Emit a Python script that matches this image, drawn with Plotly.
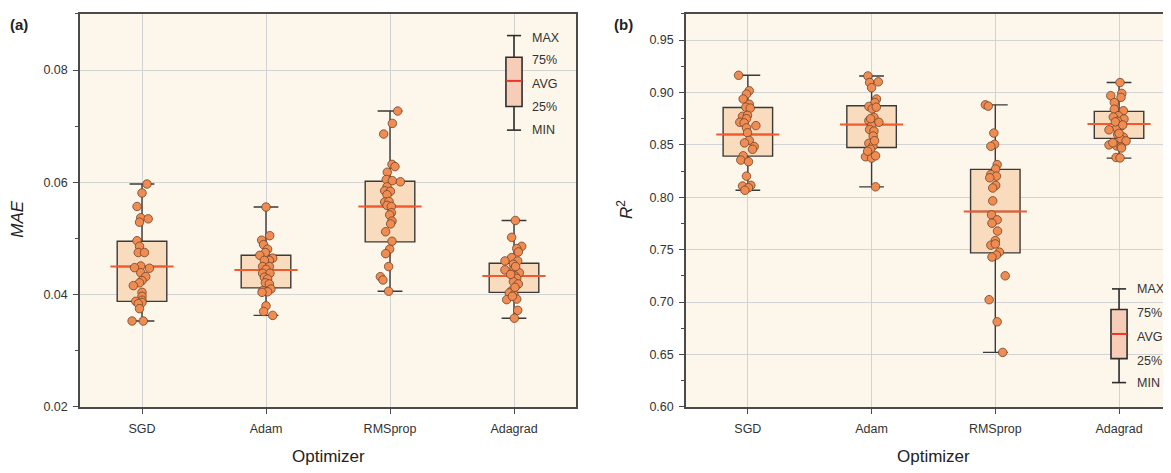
import plotly.graph_objects as go

# ---------------- data ----------------
optimizers = ["SGD", "Adam", "RMSprop", "Adagrad"]

# MAE points per optimizer
mae_sgd = [0.0597, 0.0581, 0.0557, 0.0537, 0.0535, 0.0529, 0.0496, 0.0486, 0.0475, 0.0475,
           0.0451, 0.0448, 0.0447, 0.0439, 0.0432, 0.0425, 0.0421, 0.0416, 0.0404, 0.0397,
           0.0390, 0.0388, 0.0386, 0.0384, 0.0375, 0.0353, 0.0353]
mae_adam = [0.0556, 0.0505, 0.0497, 0.0489, 0.0481, 0.0475, 0.0470, 0.0465, 0.0461, 0.0461,
            0.0450, 0.0450, 0.0445, 0.0438, 0.0438, 0.0431, 0.0428, 0.0421, 0.0419, 0.0410,
            0.0407, 0.0405, 0.0404, 0.0380, 0.0370, 0.0363]
mae_rms = [0.0727, 0.0705, 0.0686, 0.0632, 0.0628, 0.0618, 0.0605, 0.0603, 0.0601, 0.0592,
           0.0585, 0.0584, 0.0578, 0.0565, 0.0566, 0.0559, 0.0557, 0.0546, 0.0542, 0.0531,
           0.0526, 0.0512, 0.0495, 0.0481, 0.0473, 0.0450, 0.0432, 0.0426, 0.0406]
mae_adagrad = [0.0532, 0.0502, 0.0486, 0.0482, 0.0476, 0.0466, 0.0460, 0.0460, 0.0454, 0.0444,
               0.0446, 0.0439, 0.0433, 0.0429, 0.0423, 0.0419, 0.0407, 0.0403, 0.0400, 0.0391,
               0.0392, 0.0372, 0.0358, 0.0450, 0.0436, 0.0413, 0.0397]

# R2 points per optimizer
r2_sgd = [0.9164, 0.9017, 0.8985, 0.8938, 0.8888, 0.8860, 0.8851, 0.8773, 0.8782, 0.8750,
          0.8716, 0.8710, 0.8684, 0.8663, 0.8616, 0.8543, 0.8519, 0.8484, 0.8458, 0.8396,
          0.8355, 0.8340, 0.8202, 0.8108, 0.8114, 0.8091, 0.8067]
r2_adam = [0.9158, 0.9095, 0.9102, 0.9046, 0.8938, 0.8904, 0.8867, 0.8844, 0.8763, 0.8731,
           0.8716, 0.8684, 0.8647, 0.8632, 0.8585, 0.8515, 0.8490, 0.8458, 0.8387, 0.8374,
           0.8396, 0.8100, 0.8860, 0.8750, 0.8540, 0.8440]
r2_rms = [0.8882, 0.8870, 0.8613, 0.8506, 0.8487, 0.8312, 0.8270, 0.8218, 0.8202, 0.8186,
          0.8114, 0.8089, 0.7966, 0.7832, 0.7785, 0.7753, 0.7678, 0.7587, 0.7543, 0.7555,
          0.7477, 0.7449, 0.7430, 0.7251, 0.7023, 0.6812, 0.6520]
r2_adagrad = [0.9095, 0.8992, 0.8954, 0.8970, 0.8904, 0.8841, 0.8826, 0.8778, 0.8766, 0.8747,
              0.8726, 0.8679, 0.8663, 0.8644, 0.8600, 0.8575, 0.8553, 0.8538, 0.8500, 0.8490,
              0.8481, 0.8380, 0.8376, 0.8720, 0.8690, 0.8610, 0.8520, 0.8470]

# horizontal scatter of each point (category units)
mae_sgd_dx = [0.04, 0.00, -0.04, -0.01, 0.05, -0.02, -0.04, -0.02, -0.03, 0.02, -0.01, -0.06,
              0.06, -0.01, 0.03, 0.00, -0.02, -0.07, 0.00, 0.00, 0.00, -0.05, 0.00, -0.03,
              -0.02, -0.08, 0.01]
mae_adam_dx = [0.0, 0.03, -0.035, -0.02, 0.013, -0.005, -0.05, 0.054, 0.027, -0.013, -0.027,
               0.027, 0.0, -0.027, 0.032, -0.013, 0.013, -0.005, 0.027, 0.04, -0.027, 0.013,
               -0.032, 0.0, -0.019, 0.054]
mae_rms_dx = [0.062, 0.019, -0.051, 0.016, 0.04, -0.022, -0.03, 0.019, 0.084, -0.024, -0.043,
              0.003, -0.024, -0.043, -0.008, -0.024, 0.011, 0.011, -0.003, 0.016, 0.005, -0.035,
              0.016, -0.003, -0.035, -0.011, -0.078, -0.057, -0.011]
mae_adagrad_dx = [0.011, -0.019, 0.062, 0.022, 0.035, -0.019, -0.073, 0.03, -0.005, -0.073,
                  0.0, 0.043, 0.008, 0.022, -0.005, 0.035, -0.019, -0.038, 0.0, -0.059, 0.022,
                  0.03, 0.003, 0.013, -0.027, 0.008, -0.013]
r2_sgd_dx = [-0.075, 0.011, -0.011, -0.038, 0.011, -0.016, 0.019, -0.043, -0.003, -0.011,
             -0.065, -0.03, 0.065, -0.011, -0.003, 0.011, -0.027, 0.051, 0.038, -0.038,
             -0.057, 0.005, -0.011, -0.043, 0.024, 0.005, -0.024]
r2_adam_dx = [-0.03, -0.016, 0.054, 0.0, 0.04, 0.027, -0.022, 0.005, 0.019, -0.022, 0.059,
              0.0, -0.016, 0.019, 0.013, -0.022, 0.011, -0.008, -0.049, 0.0, 0.032, 0.032,
              0.038, -0.008, 0.024, -0.032]
r2_rms_dx = [-0.08, -0.057, -0.012, -0.006, -0.036, 0.015, 0.003, -0.036, 0.009, -0.045,
             0.003, -0.021, -0.021, -0.03, 0.015, -0.027, 0.018, 0.0, -0.036, 0.0, 0.033,
             0.009, -0.027, 0.08, -0.05, 0.015, 0.06]
r2_adagrad_dx = [0.008, 0.022, 0.016, -0.067, -0.038, -0.038, 0.035, -0.005, -0.046, 0.04,
                 -0.011, 0.016, -0.019, -0.081, -0.011, 0.035, 0.016, 0.057, -0.081, -0.019,
                 0.016, -0.024, 0.008, -0.03, 0.03, 0.0, -0.05, 0.02]

# box statistics: MIN, 25%, AVG, 75%, MAX
mae_min = [0.0353, 0.0363, 0.0406, 0.0358]
mae_q1 = [0.0388, 0.0412, 0.0494, 0.0404]
mae_avg = [0.0450, 0.0444, 0.0557, 0.0433]
mae_q3 = [0.0495, 0.0470, 0.0602, 0.0456]
mae_max = [0.0597, 0.0556, 0.0727, 0.0532]

r2_min = [0.8067, 0.8100, 0.6520, 0.8374]
r2_q1 = [0.8393, 0.8475, 0.7470, 0.8562]
r2_avg = [0.8600, 0.8694, 0.7865, 0.8700]
r2_q3 = [0.8857, 0.8873, 0.8267, 0.8820]
r2_max = [0.9164, 0.9158, 0.8882, 0.9095]

legend_labels = ["MAX", "75%", "AVG", "25%", "MIN"]

# ---------------- styling ----------------
FONT = "Arial, Liberation Sans, sans-serif"
BG = "#FDF6EA"
BOX_FILL = "#F9DCBD"
BOX_LINE = "#3A3A3A"
MEAN_COLOR = "#EF5A2F"
PT_FILL = "#F08C52"
PT_LINE = "#6E4328"
GRID = "#D3D3D3"
AXIS = "#4A4A4A"
TXT = "#333333"

# page body adds an 8px offset; figure is sized to fit the window exactly
OFF = 8
W, H = 1171 - OFF, 473 - OFF


def px_x(X):
    return (X - OFF) / W


def px_y(Y):
    return 1 - (Y - OFF) / H


fig = go.Figure()

panels = [
    dict(xa="x", ya="y",
         pts=[mae_sgd, mae_adam, mae_rms, mae_adagrad],
         dx=[mae_sgd_dx, mae_adam_dx, mae_rms_dx, mae_adagrad_dx],
         stats=(mae_min, mae_q1, mae_avg, mae_q3, mae_max)),
    dict(xa="x2", ya="y2",
         pts=[r2_sgd, r2_adam, r2_rms, r2_adagrad],
         dx=[r2_sgd_dx, r2_adam_dx, r2_rms_dx, r2_adagrad_dx],
         stats=(r2_min, r2_q1, r2_avg, r2_q3, r2_max)),
]

BOX_W = 0.40
MEAN_HW = 0.255

for p in panels:
    smin, sq1, savg, sq3, smax = p["stats"]
    for i, name in enumerate(optimizers):
        fig.add_trace(go.Box(
            x=[i], q1=[sq1[i]], median=[savg[i]], q3=[sq3[i]],
            lowerfence=[smin[i]], upperfence=[smax[i]],
            width=BOX_W, whiskerwidth=0.5, boxpoints=False,
            fillcolor=BOX_FILL, line=dict(color=BOX_LINE, width=1.4),
            xaxis=p["xa"], yaxis=p["ya"], showlegend=False, hoverinfo="skip"))
        fig.add_trace(go.Scatter(
            x=[i - MEAN_HW, i + MEAN_HW], y=[savg[i], savg[i]], mode="lines",
            line=dict(color=MEAN_COLOR, width=2),
            xaxis=p["xa"], yaxis=p["ya"], showlegend=False, hoverinfo="skip"))
        fig.add_trace(go.Scatter(
            x=[i + d for d in p["dx"][i]], y=p["pts"][i], mode="markers",
            marker=dict(size=8.5, color=PT_FILL, line=dict(color=PT_LINE, width=0.8)),
            xaxis=p["xa"], yaxis=p["ya"], showlegend=False))


# ---------------- key glyphs (MAX / 75% / AVG / 25% / MIN) ----------------
def add_key(xref, yref, xc, vals, label_ys):
    vmax, vq3, vavg, vq1, vmin = vals
    cap, hb = 0.057, 0.065
    ln = dict(color="#2E2E2E", width=1.6)
    fig.add_shape(type="line", xref=xref, yref=yref, x0=xc, x1=xc, y0=vq3, y1=vmax, line=ln)
    fig.add_shape(type="line", xref=xref, yref=yref, x0=xc, x1=xc, y0=vmin, y1=vq1, line=ln)
    fig.add_shape(type="line", xref=xref, yref=yref, x0=xc - cap, x1=xc + cap, y0=vmax, y1=vmax, line=ln)
    fig.add_shape(type="line", xref=xref, yref=yref, x0=xc - cap, x1=xc + cap, y0=vmin, y1=vmin, line=ln)
    fig.add_shape(type="rect", xref=xref, yref=yref, x0=xc - hb, x1=xc + hb, y0=vq1, y1=vq3,
                  fillcolor="#F8CDB7", line=ln)
    fig.add_shape(type="line", xref=xref, yref=yref, x0=xc - hb, x1=xc + hb, y0=vavg, y1=vavg,
                  line=dict(color="#E8372A", width=2))
    for lab, yy in zip(legend_labels, label_ys):
        fig.add_annotation(x=xc + 0.13, y=yy, xref=xref, yref=yref, text=lab, showarrow=False,
                           xanchor="left", yanchor="middle",
                           font=dict(family=FONT, size=12.5, color=TXT))


add_key("x", "y", 3, [0.08614, 0.08228, 0.07807, 0.07351, 0.06930],
        [0.08574, 0.08175, 0.07754, 0.07333, 0.06925])
add_key("x2", "y2", 3, [0.7126, 0.6929, 0.6696, 0.6461, 0.6232],
        [0.7126, 0.6897, 0.6671, 0.6442, 0.6232])

# ---------------- axes ----------------
ydom = [px_y(413), px_y(14)]
common_x = dict(tickmode="array", tickvals=list(range(4)), ticktext=optimizers,
                showgrid=True, gridcolor=GRID, gridwidth=1, zeroline=False,
                showline=True, linecolor=AXIS, linewidth=1.5,
                ticks="outside", ticklen=5, tickcolor=AXIS, tickwidth=1.2,
                ticklabelstandoff=4,
                tickfont=dict(family=FONT, size=12.5, color=TXT))
common_y = dict(showgrid=True, gridcolor=GRID, gridwidth=1, zeroline=False,
                showline=True, linecolor=AXIS, linewidth=1.5,
                ticks="outside", ticklen=5, tickcolor=AXIS, tickwidth=1.2,
                ticklabelstandoff=3,
                tickfont=dict(family=FONT, size=12.5, color=TXT))

fig.update_layout(
    xaxis=dict(domain=[px_x(80), px_x(576)], range=[-0.5, 3.5], mirror=True, anchor="y", **common_x),
    yaxis=dict(domain=ydom, range=[0.02, 0.09], tick0=0.02, dtick=0.02, tickformat=".2f",
               mirror=True, anchor="x",
               minor=dict(dtick=0.01, tick0=0.02, ticks="outside", ticklen=3, tickcolor=AXIS, showgrid=False),
               **common_y),
    xaxis2=dict(domain=[px_x(686), 1.0], range=[-0.5, 3.42], mirror=True, anchor="y2", **common_x),
    yaxis2=dict(domain=ydom, range=[0.6, 0.975], tick0=0.6, dtick=0.05, tickformat=".2f",
                mirror=False, anchor="x2",
                minor=dict(dtick=0.025, tick0=0.6, ticks="outside", ticklen=3, tickcolor=AXIS, showgrid=False),
                **common_y),
    plot_bgcolor=BG, paper_bgcolor="white",
    width=W, height=H, margin=dict(l=0, r=0, t=0, b=0),
    boxmode="overlay", showlegend=False,
)


def label(X, Y, text, size, angle=0):
    fig.add_annotation(x=px_x(X), y=px_y(Y), xref="paper", yref="paper", text=text,
                       textangle=angle, showarrow=False, xanchor="center", yanchor="middle",
                       font=dict(family=FONT, size=size, color="#222"))


# titles and panel letters
label(18, 222, "<i>MAE</i>", 17, -90)
label(625, 213, "<i>R</i><sup>2</sup>", 17, -90)
label(328, 463, "Optimizer", 17)
label(933, 463, "Optimizer", 17)
label(19, 25, "<b>(a)</b>", 15)
label(623, 25, "<b>(b)</b>", 15)

fig.write_html("out.html")
